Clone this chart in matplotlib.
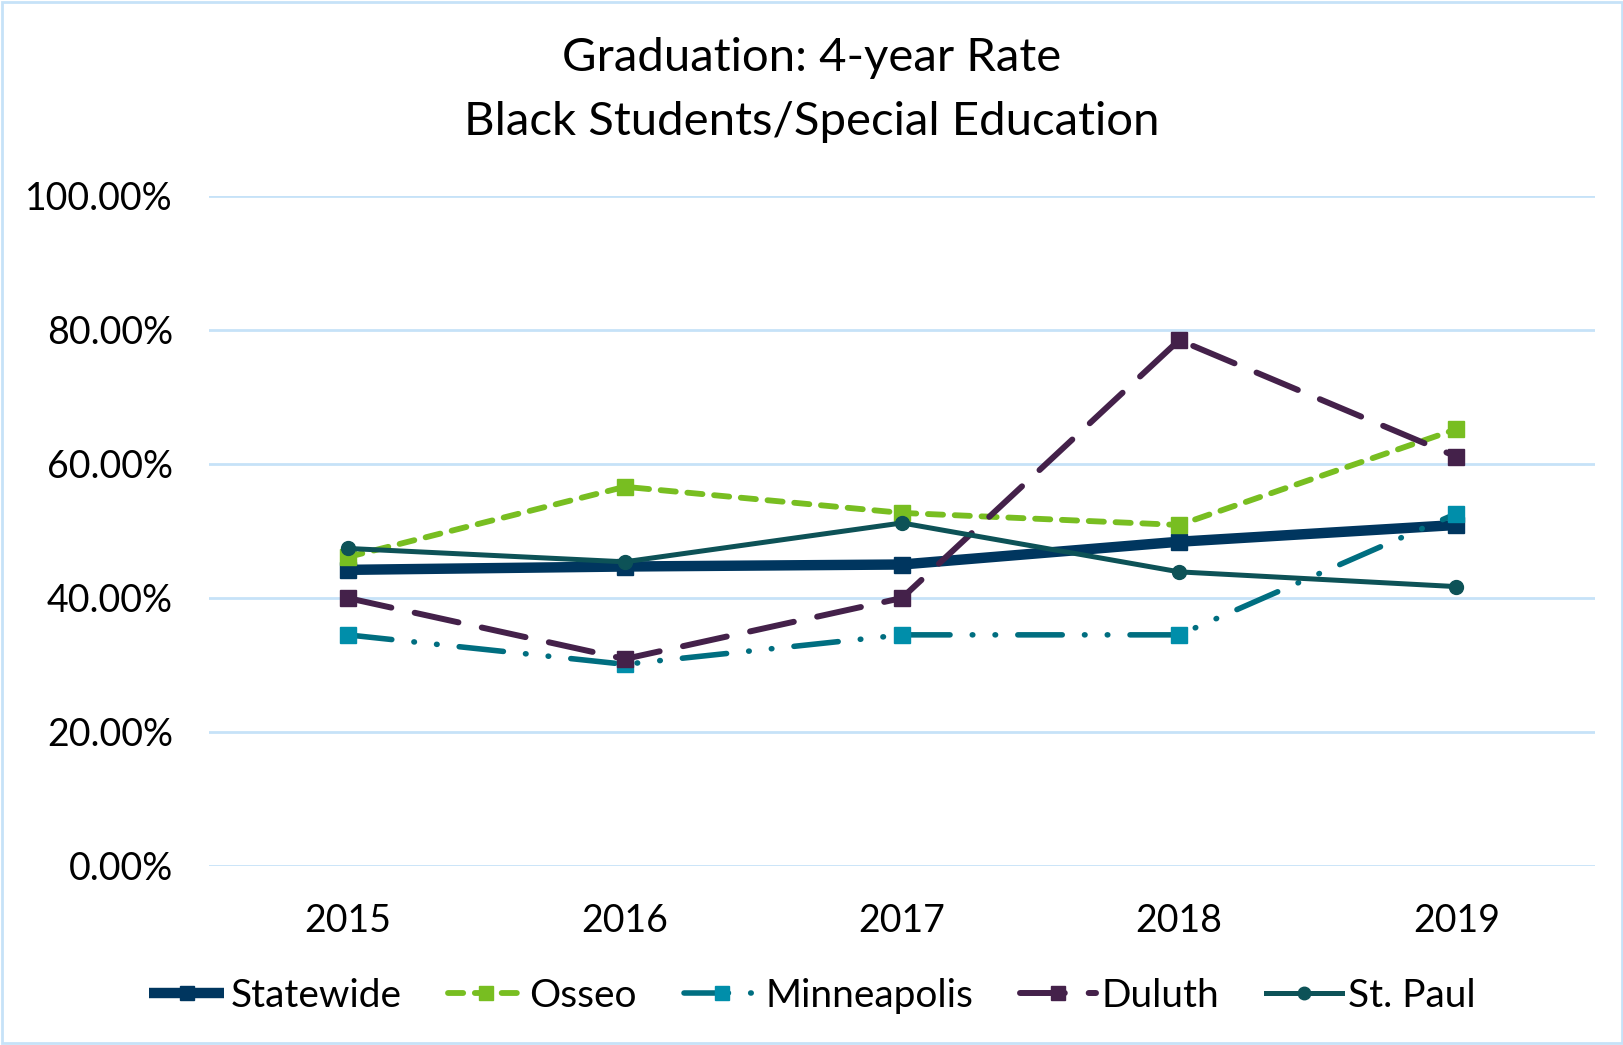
import matplotlib
matplotlib.use("Agg")
import matplotlib.pyplot as plt
from matplotlib.patches import Rectangle
from matplotlib.ticker import FuncFormatter, MultipleLocator

plt.rcParams['font.family'] = ['Lato', 'DejaVu Sans']

years = ["2015", "2016", "2017", "2018", "2019"]
statewide = [0.442, 0.447, 0.450, 0.484, 0.509]
osseo = [0.461, 0.566, 0.527, 0.509, 0.652]
minneapolis = [0.345, 0.301, 0.345, 0.345, 0.526]
duluth = [0.400, 0.309, 0.400, 0.785, 0.611]
st_paul = [0.474, 0.454, 0.512, 0.439, 0.417]

title_lines = ["Graduation: 4-year Rate", "Black Students/Special Education"]

fig = plt.figure(figsize=(16.24, 10.45), dpi=100)
ax = fig.add_axes([209/1624, 1-866/1045, (1595-209)/1624, (866-196)/1045])

x = list(range(len(years)))

ax.plot(x, statewide, color="#00365F", lw=7.5, marker="s", ms=11,
        solid_capstyle="butt", label="Statewide", zorder=3)
ax.plot(x, osseo, color="#78BE21", lw=4.2, marker="s", ms=11,
        dashes=(2.6, 2.0), dash_capstyle="round", label="Osseo", zorder=4)
ax.plot(x, minneapolis, color="#006E80", lw=4.0, marker="s", ms=11,
        mfc="#008EAA", mec="#008EAA",
        dashes=(8.0, 4.0, 0.1, 4.0, 0.1, 4.0), dash_capstyle="round",
        label="Minneapolis", zorder=5)
ax.plot(x, duluth, color="#44214A", lw=4.3, marker="s", ms=11,
        dashes=(7.5, 4.0), dash_capstyle="round", label="Duluth", zorder=6)
ax.plot(x, st_paul, color="#0D5257", lw=3.6, marker="o", ms=10,
        label="St. Paul", zorder=7)

ax.set_xlim(-0.5, len(years) - 0.5)
ax.set_ylim(0, 1.0)
ax.yaxis.set_major_locator(MultipleLocator(0.2))
ax.yaxis.set_major_formatter(FuncFormatter(lambda v, p: f"{v*100:.2f}%"))
ax.set_xticks(x)
ax.set_xticklabels(years)
ax.grid(axis="y", color="#C6E2F8", lw=2.0)
ax.set_axisbelow(True)
for s in ax.spines.values():
    s.set_visible(False)
ax.tick_params(axis="both", length=0, labelsize=27, colors="black")
ax.tick_params(axis="y", pad=26)
ax.tick_params(axis="x", pad=27)

fig.text(0.5, 1 - 58/1045, title_lines[0], ha="center", va="center", fontsize=34)
fig.text(0.5, 1 - 122/1045, title_lines[1], ha="center", va="center", fontsize=34)

leg = fig.legend(loc="center", bbox_to_anchor=(0.5, 1 - 996/1045), ncol=5,
                 frameon=False, fontsize=28, handlelength=1.95,
                 columnspacing=1.2, handletextpad=0.15, markerscale=0.9)

fig.add_artist(Rectangle((2/1624, 2/1045), 1 - 4/1624, 1 - 4/1045,
                         transform=fig.transFigure, fill=False,
                         edgecolor="#C6E2F8", lw=2.0))

fig.savefig("out.png", dpi=100, facecolor="white")
